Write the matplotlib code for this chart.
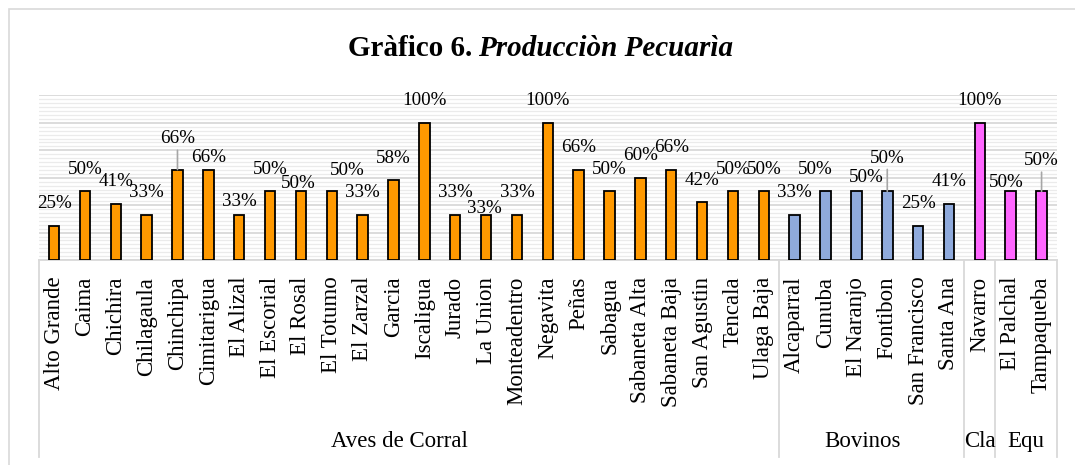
import matplotlib
matplotlib.use("Agg")
import matplotlib.pyplot as plt
from matplotlib.patches import Rectangle
from matplotlib.ticker import MultipleLocator, AutoMinorLocator

plt.rcParams['font.family'] = ['Liberation Serif', 'DejaVu Serif']

# data
veredas = ['Alto Grande', 'Caima', 'Chichira', 'Chilagaula', 'Chinchipa',
           'Cimitarigua', 'El Alizal', 'El Escorial', 'El Rosal', 'El Totumo',
           'El Zarzal', 'Garcia', 'Iscaligua', 'Jurado', 'La Union',
           'Monteadentro', 'Negavita', 'Peñas', 'Sabagua', 'Sabaneta Alta',
           'Sabaneta Baja', 'San Agustin', 'Tencala', 'Ulaga Baja',
           'Alcaparral', 'Cunuba', 'El Naranjo', 'Fontibon', 'San Francisco',
           'Santa Ana', 'Navarro', 'El Palchal', 'Tampaqueba']
porcentaje = [0.25, 0.50, 0.41, 0.33, 0.66, 0.66, 0.33, 0.50, 0.50, 0.50,
              0.33, 0.58, 1.00, 0.33, 0.33, 0.33, 1.00, 0.66, 0.50, 0.60,
              0.66, 0.42, 0.50, 0.50,
              0.33, 0.50, 0.50, 0.50, 0.25, 0.41,
              1.00,
              0.50, 0.50]
grupos = ['Aves de Corral', 'Bovinos', 'Cla', 'Equ']
grupo_n = [24, 6, 1, 2]

grupo_color = {'Aves de Corral': '#FF9900', 'Bovinos': '#8FAADC',
               'Cla': '#FF66FF', 'Equ': '#FF66FF'}
grupo_dx = {'Aves de Corral': -7, 'Bovinos': -7, 'Cla': 0, 'Equ': 0}

# label nudges (points): index -> (dx, dy above bar top), leader line
nudge = {4: (0, 22, True), 5: (0, 9, False), 6: (0, 9.5, False),
         8: (-2, 6, False), 9: (11, 15, False), 14: (-1.5, 4.5, False),
         25: (-7.5, 16, False), 26: (7, 10, False), 27: (0, 24, True),
         31: (-3, 6.5, False), 32: (0, 22, True)}

colores = []
for g, n in zip(grupos, grupo_n):
    colores += [grupo_color[g]] * n

fig = plt.figure(figsize=(10.75, 4.65), dpi=100)
ax = fig.add_axes([38.6 / 1075, 205 / 465, 1018.4 / 1075, 164.5 / 465])

x = list(range(len(veredas)))
ax.bar(x, porcentaje, width=0.34, color=colores, edgecolor='black',
       linewidth=1.3, zorder=3)

ax.set_xlim(-0.5, len(veredas) - 0.5)
ax.set_ylim(0, 1.2)
ax.yaxis.set_major_locator(MultipleLocator(0.2))
ax.yaxis.set_minor_locator(AutoMinorLocator(7))
ax.grid(axis='y', which='major', color='#d9d9d9', linewidth=1.3, zorder=0)
ax.grid(axis='y', which='minor', color='#ebebeb', linewidth=0.9, zorder=0)
ax.tick_params(axis='y', which='both', length=0, labelleft=False)

for s in ['left', 'right', 'top']:
    ax.spines[s].set_visible(False)
ax.spines['bottom'].set_color('#d9d9d9')
ax.spines['bottom'].set_linewidth(1.3)

ax.set_xticks(x)
ax.set_xticklabels(veredas, rotation=90, fontsize=16.5)
ax.tick_params(axis='x', length=0, pad=12)

# value labels
for i, v in enumerate(porcentaje):
    dx, dy, leader = nudge.get(i, (0, 16, False))
    props = None
    if leader:
        props = dict(arrowstyle='-', color='#a6a6a6', lw=1.2,
                     shrinkA=0, shrinkB=0)
    ax.annotate(f"{round(v * 100)}%", xy=(i, v), xytext=(dx, dy),
                textcoords='offset points', ha='center', va='center',
                fontsize=13.7, arrowprops=props, zorder=4)

# second level of the category axis
trans = ax.get_xaxis_transform()
bordes = [-0.5]
for n in grupo_n:
    bordes.append(bordes[-1] + n)
for b in bordes:
    ax.plot([b, b], [0, -1.198], transform=trans, color='#d9d9d9',
            linewidth=1.3, clip_on=False)
for g, a, b in zip(grupos, bordes[:-1], bordes[1:]):
    ax.annotate(g, xy=((a + b) / 2, -1.106), xycoords=trans,
                xytext=(grupo_dx[g], 0), textcoords='offset points',
                ha='center', va='center', fontsize=16.5,
                annotation_clip=False)

# title
fig.text(472 / 1075, 1 - 56 / 465, 'Gràfico 6.', ha='right', va='baseline',
         fontsize=21, fontweight='bold')
fig.text(478 / 1075, 1 - 56 / 465, 'Producciòn Pecuarìa', ha='left',
         va='baseline', fontsize=21, fontweight='bold', fontstyle='italic')

# chart border
fig.patches.append(Rectangle((9 / 1075, -0.1), 1.2, 1.1 - 9 / 465,
                             transform=fig.transFigure, fill=False,
                             edgecolor='#d9d9d9', linewidth=1.2))

fig.savefig('out.png', dpi=100)
